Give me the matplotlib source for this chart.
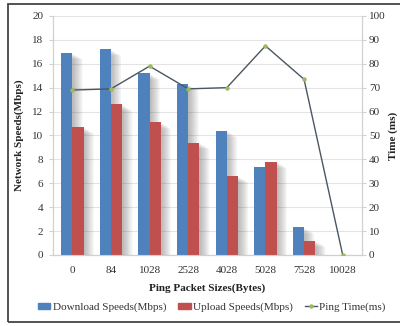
import matplotlib.pyplot as plt
import matplotlib.patheffects as pe
from matplotlib.patches import Rectangle
from matplotlib.lines import Line2D
import numpy as np

plt.rcParams["font.family"] = ["Liberation Serif", "DejaVu Serif"]

# ping packet sizes and measured results
packet_sizes = ["0", "84", "1028", "2528", "4028", "5028", "7528", "10028"]
download_mbps = [16.9, 17.2, 15.2, 14.3, 10.4, 7.4, 2.3, 0.0]
upload_mbps = [10.7, 12.6, 11.1, 9.4, 6.6, 7.8, 1.2, 0.0]
ping_ms = [69.0, 69.5, 79.0, 69.5, 70.0, 87.5, 73.5, 0.0]

BLUE = "#4f81bd"
RED = "#c0504d"
LINE = "#4a5662"
MARK = "#9bbb59"

fig = plt.figure(figsize=(4.0, 3.26), dpi=100)
ax = fig.add_axes([0.1325, 0.218, 0.7725, 0.733])
ax2 = ax.twinx()

x = np.arange(len(packet_sizes))
w = 0.29

# soft drop shadow: many faint offset copies stacked
shadow = [pe.SimplePatchShadow(offset=(d * 0.5, -d * 0.3), shadow_rgbFace="#666666", alpha=0.035)
          for d in range(2, 16)] + [pe.Normal()]

b1 = ax.bar(x - w / 2, download_mbps, w, color=BLUE, zorder=3)
b2 = ax.bar(x + w / 2, upload_mbps, w, color=RED, zorder=3)
for b in list(b1) + list(b2):
    b.set_path_effects(shadow)

ax.set_xlim(-0.5, len(packet_sizes) - 0.5)
ax.set_ylim(0, 20)
ax.set_yticks(range(0, 21, 2))
ax.set_xticks(x)
ax.set_xticklabels(packet_sizes)
ax.grid(axis="y", color="#e3e3e3", lw=0.8, zorder=0)
ax.set_axisbelow(True)

ax2.plot(x, ping_ms, color=LINE, lw=1.0, marker="o", ms=2.2,
         mfc=MARK, mec=MARK, zorder=4)
ax2.set_ylim(0, 100)
ax2.set_yticks(range(0, 101, 10))

for a in (ax, ax2):
    a.spines["top"].set_visible(False)
    for s in ("left", "right", "bottom"):
        a.spines[s].set_color("#d0d0d0")
        a.spines[s].set_linewidth(0.8)
    a.tick_params(labelsize=8, colors="#d0d0d0", labelcolor="#333333",
                  length=3, width=0.8, pad=4)
ax.tick_params(axis="x", length=0, pad=8)
ax2.tick_params(pad=2)

ax.set_xlabel("Ping Packet Sizes(Bytes)", fontsize=8, fontweight="bold",
              color="#222222", labelpad=6)
ax.set_ylabel("Network Speeds(Mbps)", fontsize=8, fontweight="bold",
              color="#222222", labelpad=6)
ax2.set_ylabel("Time (ms)", fontsize=8, fontweight="bold", color="#222222")
ax2.yaxis.set_label_coords(1.085, 0.5)

handles = [
    Rectangle((0, 0), 1, 1, color=BLUE),
    Rectangle((0, 0), 1, 1, color=RED),
    Line2D([], [], color=LINE, lw=1.0, marker="o", ms=2.2, mfc=MARK, mec=MARK),
]
fig.legend(handles, ["Download Speeds(Mbps)", "Upload Speeds(Mbps)", "Ping Time(ms)"],
           loc="center", bbox_to_anchor=(0.53, 0.058), ncol=3, frameon=False,
           fontsize=8, handlelength=1.1, handleheight=0.5, handletextpad=0.2,
           columnspacing=1.1, labelcolor="#333333")

# outer frame
fig.patches.append(Rectangle((0.02, 0.012), 1.2, 0.975, transform=fig.transFigure,
                             fill=False, ec="#444444", lw=1.3))

fig.savefig("out.png", dpi=100)
